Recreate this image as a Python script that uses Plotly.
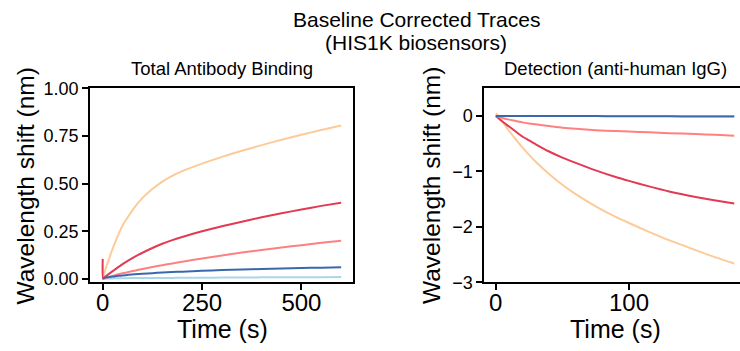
import plotly.graph_objects as go

# ---------------- data ----------------
# Total Antibody Binding (association), time in s
t_assoc = [0, 1, 5, 10, 15, 20, 30, 40, 50, 65, 80, 100, 125, 150, 175, 200,
           250, 300, 350, 400, 450, 500, 550, 600]
assoc_peach = [0.065, 0.0, 0.035, 0.07, 0.10, 0.13, 0.185, 0.235, 0.28, 0.33, 0.375, 0.425,
               0.472, 0.51, 0.54, 0.565, 0.605, 0.64, 0.672, 0.702, 0.73, 0.756, 0.781, 0.805]
assoc_red = [0.105, 0.0, 0.008, 0.017, 0.025, 0.033, 0.048, 0.063, 0.077, 0.097, 0.115, 0.137,
             0.162, 0.184, 0.203, 0.22, 0.25, 0.276, 0.30, 0.323, 0.344, 0.364, 0.383, 0.40]
assoc_salmon = [0.0, 0.0, 0.003, 0.006, 0.009, 0.012, 0.018, 0.024, 0.029, 0.036, 0.043, 0.052,
                0.062, 0.072, 0.081, 0.09, 0.107, 0.123, 0.138, 0.152, 0.165, 0.177, 0.189, 0.20]
assoc_darkblue = [0.005, 0.005, 0.006, 0.008, 0.009, 0.011, 0.013, 0.016, 0.018, 0.021, 0.024, 0.027,
                  0.030, 0.033, 0.036, 0.038, 0.042, 0.046, 0.049, 0.052, 0.055, 0.057, 0.059, 0.061]
assoc_lightblue = [0.04, 0.0, 0.001, 0.002, 0.002, 0.002, 0.003, 0.003, 0.003, 0.004, 0.004, 0.004,
                   0.005, 0.005, 0.005, 0.006, 0.006, 0.007, 0.007, 0.008, 0.008, 0.009, 0.009, 0.01]

# Detection (anti-human IgG)
t_det = [0, 2, 5, 10, 15, 20, 25, 30, 40, 50, 60, 75, 90, 100, 115, 130, 150, 165, 179]
det_peach = [0.05, 0.0, -0.10, -0.27, -0.42, -0.565, -0.70, -0.825, -1.045, -1.24, -1.41, -1.63,
             -1.82, -1.93, -2.09, -2.24, -2.42, -2.55, -2.66]
det_red = [0.0, -0.04, -0.10, -0.19, -0.28, -0.37, -0.44, -0.51, -0.64, -0.75, -0.845, -0.98,
           -1.10, -1.17, -1.27, -1.36, -1.46, -1.525, -1.58]
det_salmon = [0.0, -0.01, -0.035, -0.065, -0.09, -0.115, -0.135, -0.15, -0.18, -0.21, -0.232,
              -0.255, -0.272, -0.28, -0.295, -0.31, -0.325, -0.34, -0.355]
det_darkblue = [0.0, 0.0, 0.0, 0.0, 0.0, 0.0, 0.0, 0.0, 0.0, 0.0, 0.0, 0.0, -0.005, -0.005,
                -0.005, -0.005, -0.01, -0.01, -0.01]
det_lightblue = [0.0] * len(t_det)

series_colors = {
    "peach": "#FDCA98",
    "red": "#E23A52",
    "salmon": "#FF8080",
    "darkblue": "#3A68AE",
    "lightblue": "#A9D6EB",
}

main_title = ["Baseline Corrected Traces", "(HIS1K biosensors)"]
sub_titles = ["Total Antibody Binding", "Detection (anti-human IgG)"]
x_title = "Time (s)"
y_title = "Wavelength shift (nm)"

FONT = "Liberation Sans, Arial, Helvetica, sans-serif"

fig = go.Figure()

assoc = [("lightblue", assoc_lightblue), ("peach", assoc_peach), ("red", assoc_red),
         ("salmon", assoc_salmon), ("darkblue", assoc_darkblue)]
for name, ys in assoc:
    fig.add_trace(go.Scatter(x=t_assoc, y=ys, mode="lines", xaxis="x", yaxis="y",
                             line=dict(color=series_colors[name], width=2, shape="spline", smoothing=0.6),
                             showlegend=False))

det = [("peach", det_peach), ("red", det_red), ("salmon", det_salmon),
       ("lightblue", det_lightblue), ("darkblue", det_darkblue)]
for name, ys in det:
    fig.add_trace(go.Scatter(x=t_det, y=ys, mode="lines", xaxis="x2", yaxis="y2",
                             line=dict(color=series_colors[name], width=2, shape="spline", smoothing=0.6),
                             showlegend=False))

W, H = 740, 351
def px(x):
    return x / W
def py(y):
    return 1 - y / H

ax_common = dict(showgrid=False, zeroline=False, showline=True, linecolor="black", linewidth=1.8,
                 ticks="outside", ticklen=6, tickwidth=1.5, tickcolor="black", automargin=False)

fig.update_layout(
    width=W, height=H,
    margin=dict(l=0, r=0, t=0, b=0, autoexpand=False),
    paper_bgcolor="white", plot_bgcolor="white",
    font=dict(family=FONT, color="black"),
    xaxis=dict(domain=[px(90), px(352.7)], range=[-32, 629], tickvals=[0, 250, 500],
               anchor="y", mirror=True, tickfont=dict(size=24), ticklabelstandoff=-8, **ax_common),
    yaxis=dict(domain=[py(282.3), py(88.3)], range=[-0.018, 1.0],
               tickvals=[0, 0.25, 0.5, 0.75, 1.0], tickformat=".2f",
               anchor="x", mirror=True, tickfont=dict(size=18), **ax_common),
    xaxis2=dict(domain=[px(484.3), 1.0], range=[-8.6, 183.3], tickvals=[0, 100],
                anchor="y2", mirror=True, tickfont=dict(size=24), ticklabelstandoff=-8, **ax_common),
    yaxis2=dict(domain=[py(282.3), py(88.3)], range=[-3, 0.5], tickvals=[-3, -2, -1, 0],
                anchor="x2", mirror=False, tickfont=dict(size=18), **ax_common),
)

ann = []
ann.append(dict(text=main_title[0], x=px(416), y=py(20), xref="paper", yref="paper",
                showarrow=False, font=dict(size=21), xanchor="center", yanchor="middle"))
ann.append(dict(text=main_title[1], x=px(416), y=py(43), xref="paper", yref="paper",
                showarrow=False, font=dict(size=21), xanchor="center", yanchor="middle"))
ann.append(dict(text=sub_titles[0], x=px(222), y=py(68), xref="paper", yref="paper",
                showarrow=False, font=dict(size=18.5), xanchor="center", yanchor="middle"))
ann.append(dict(text=sub_titles[1], x=px(615), y=py(68), xref="paper", yref="paper",
                showarrow=False, font=dict(size=18.5), xanchor="center", yanchor="middle"))
for cx in (222, 615):
    ann.append(dict(text=x_title, x=px(cx), y=py(329), xref="paper", yref="paper",
                    showarrow=False, font=dict(size=25), xanchor="center", yanchor="middle"))
for cx in (24.5, 431):
    ann.append(dict(text=y_title, x=px(cx), y=py(186), xref="paper", yref="paper",
                    showarrow=False, font=dict(size=24.5), textangle=-90,
                    xanchor="center", yanchor="middle"))
fig.update_layout(annotations=ann)

fig.write_html("out.html")
